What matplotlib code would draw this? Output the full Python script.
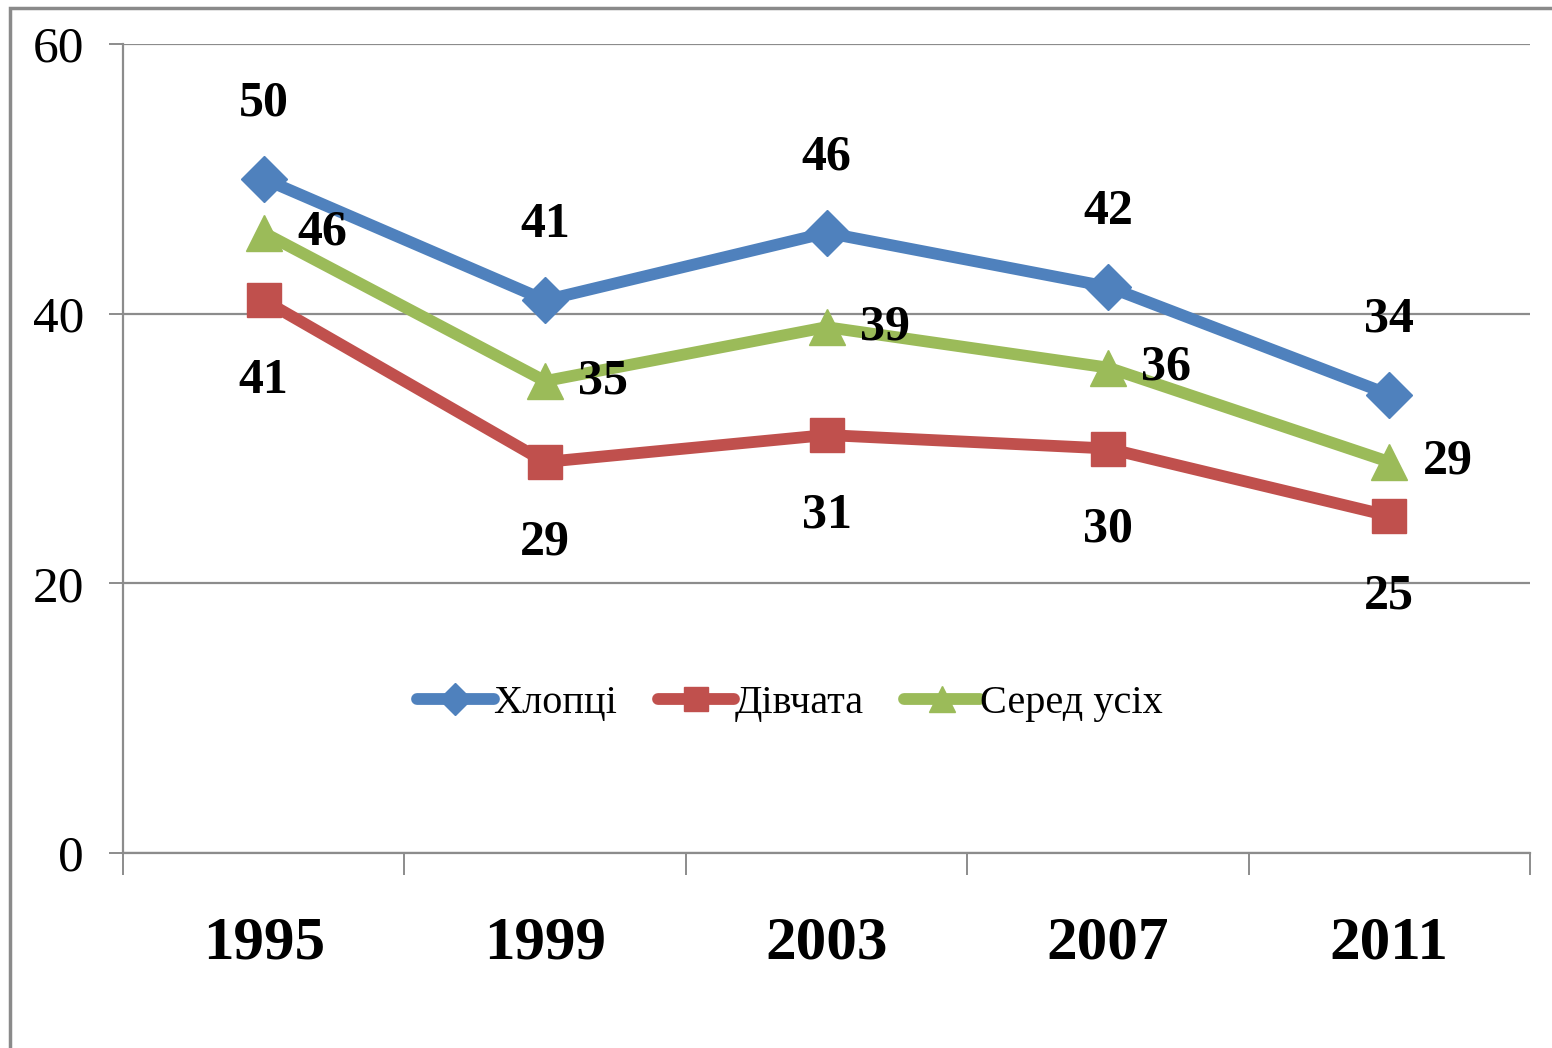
import matplotlib
matplotlib.use('Agg')
import matplotlib.pyplot as plt
from matplotlib.patches import Rectangle

plt.rcParams['font.family'] = ['Liberation Serif', 'DejaVu Serif']

# data
years = ['1995', '1999', '2003', '2007', '2011']
boys = [50, 41, 46, 42, 34]
girls = [41, 29, 31, 30, 25]
overall = [46, 35, 39, 36, 29]
series_names = ['Хлопці', 'Дівчата', 'Серед усіх']
y_ticks = [0, 20, 40, 60]

fig = plt.figure(figsize=(15.52, 10.48), dpi=100)
ax = fig.add_axes([123 / 1552, 1 - 853 / 1048, 1407 / 1552, 809 / 1048])

# outer frame (only top and left edges visible)
fig.patches.append(Rectangle((10 / 1552, -0.2), 1.5, 0.2 + 1 - 8 / 1048, transform=fig.transFigure,
                             fill=False, edgecolor='#8a8a8a', linewidth=2.5, zorder=0))

x = list(range(len(years)))
grid_color = '#8c8c8c'

styles = [
    (boys, '#4F81BD', 'D', 23, 'above'),
    (girls, '#C0504D', 's', 24, 'below'),
    (overall, '#9BBB59', '^', 26, 'right'),
]

for (vals, color, marker, msize, pos), name in zip(styles, series_names):
    ax.plot(x, vals, color=color, linewidth=8.5, marker=marker, markersize=msize,
            markerfacecolor=color, markeredgecolor=color, label=name, zorder=3,
            solid_capstyle='round')
    for xi, v in zip(x, vals):
        if pos == 'above':
            off, ha, va = (0, 54), 'center', 'center'
        elif pos == 'below':
            off, ha, va = (0, -58), 'center', 'center'
        else:
            off, ha, va = (24, 0), 'left', 'center'
        ax.annotate(str(v), (xi, v), xytext=off, textcoords='offset points',
                    ha=ha, va=va, fontsize=36, fontweight='bold', zorder=4)

ax.set_xlim(-0.5, len(years) - 0.5)
ax.set_ylim(0, 60)
ax.set_yticks(y_ticks)
ax.set_yticklabels([str(t) for t in y_ticks], fontsize=37)
ax.yaxis.grid(True, color=grid_color, linewidth=1.6)
ax.set_axisbelow(True)

ax.set_xticks([i - 0.5 for i in range(len(years) + 1)])
ax.set_xticklabels([])
ax.set_xticks(x, minor=True)
ax.set_xticklabels(years, minor=True, fontsize=44, fontweight='bold')
ax.tick_params(axis='x', which='minor', length=0, pad=45)
ax.tick_params(axis='x', which='major', length=16, width=1.4, color=grid_color, direction='out')
ax.tick_params(axis='y', length=10, width=1.4, color=grid_color, pad=18)

for s in ['top', 'right']:
    ax.spines[s].set_visible(False)
for s in ['left', 'bottom']:
    ax.spines[s].set_color(grid_color)
    ax.spines[s].set_linewidth(1.6)

leg = ax.legend(loc='center', bbox_to_anchor=(0.474, 0.185), ncol=3, frameon=False,
                fontsize=29, handlelength=1.9, handletextpad=0.0, columnspacing=1.0,
                markerscale=0.7)

fig.savefig('out.png', dpi=100, facecolor='white')
